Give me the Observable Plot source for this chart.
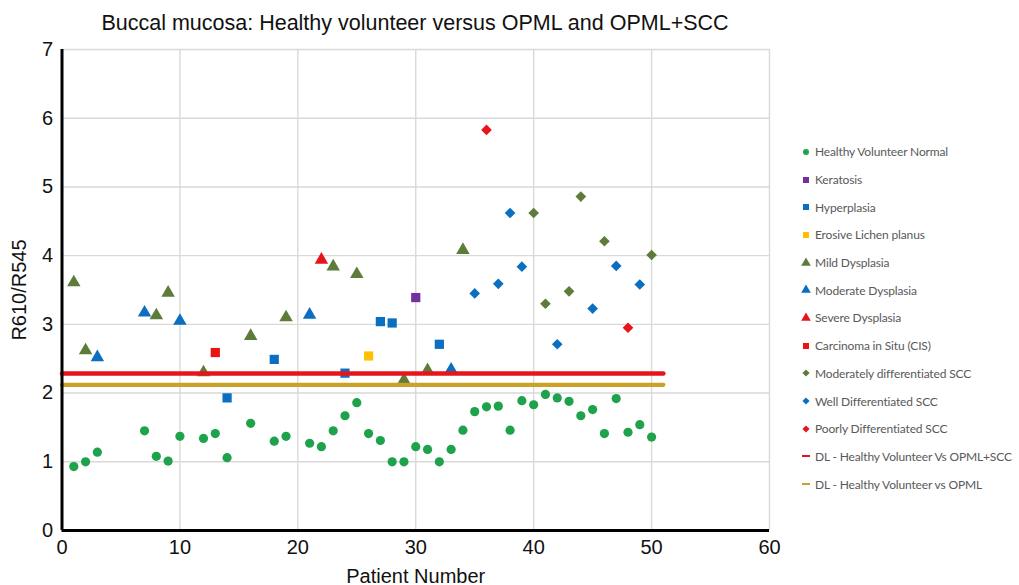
<!DOCTYPE html>
<html>
<head>
<meta charset="utf-8">
<script src="https://cdn.jsdelivr.net/npm/d3@7"></script>
<script src="https://cdn.jsdelivr.net/npm/@observablehq/plot@0.6"></script>
<style>
  html, body { margin: 0; padding: 0; background: #fff; }
  #wrap { position: relative; width: 1019px; height: 585px; overflow: hidden; }
  #title { height: 30px; width: 830px; text-align: center; font-family: "Liberation Sans", Arial, sans-serif; font-size: 21.5px; line-height: 24px; padding-top: 11px; box-sizing: border-box; color: #111; white-space: nowrap; }
  #chart svg { display: block; }
  #legend { position: absolute; left: 800px; top: 138px; font-family: Lato, "Open Sans", sans-serif; font-size: 12px; letter-spacing: -0.15px; color: #595959; }
  #legend .row { height: 27.7px; display: flex; align-items: center; white-space: nowrap; }
  #legend svg { margin-right: 3px; }
</style>
</head>
<body>
<div id="wrap">
  <div id="title">Buccal mucosa: Healthy volunteer versus OPML and OPML+SCC</div>
  <div id="chart"></div>
  <div id="legend"></div>
</div>
<script>
// ---- data ----
const healthyPatient = [1,2,3,7,8,9,10,12,13,14,16,18,19,21,22,23,24,25,26,27,28,29,30,31,32,33,34,35,36,37,38,39,40,41,42,43,44,45,46,47,48,49,50];
const healthyRatio   = [0.93,1.00,1.14,1.45,1.08,1.01,1.37,1.34,1.41,1.06,1.56,1.30,1.37,1.27,1.22,1.45,1.67,1.86,1.41,1.31,1.00,1.00,1.22,1.18,1.00,1.18,1.46,1.73,1.80,1.81,1.46,1.89,1.83,1.98,1.93,1.88,1.67,1.76,1.41,1.92,1.43,1.54,1.36];

const keratosisPatient = [30];
const keratosisRatio   = [3.39];

const hyperplasiaPatient = [14,18,24,27,28,32];
const hyperplasiaRatio   = [1.93,2.49,2.29,3.04,3.02,2.71];

const lichenPatient = [26];
const lichenRatio   = [2.54];

const mildPatient = [1,2,8,9,12,16,19,23,25,29,31,34];
const mildRatio   = [3.61,2.62,3.13,3.46,2.30,2.83,3.10,3.84,3.73,2.19,2.33,4.08];

const moderatePatient = [3,7,10,21,33];
const moderateRatio   = [2.52,3.17,3.05,3.14,2.34];

const severePatient = [22];
const severeRatio   = [3.94];

const cisPatient = [13];
const cisRatio   = [2.59];

const modSccPatient = [40,41,43,44,46,50];
const modSccRatio   = [4.62,3.30,3.48,4.86,4.21,4.01];

const wellSccPatient = [35,37,38,39,42,45,47,49];
const wellSccRatio   = [3.45,3.59,4.62,3.84,2.71,3.23,3.85,3.58];

const poorSccPatient = [36,48];
const poorSccRatio   = [5.83,2.95];

const dlSpan = [0, 51];
const dlOpmlScc = 2.285;
const dlOpml = 2.12;

const xTicks = [0,10,20,30,40,50,60];
const yTicks = [0,1,2,3,4,5,6,7];

// ---- series definitions ----
const series = [
  {name: "Healthy Volunteer Normal", px: healthyPatient, py: healthyRatio, symbol: "circle", color: "#1ea24c", r: 4.6, lr: 3},
  {name: "Keratosis", px: keratosisPatient, py: keratosisRatio, symbol: "square", color: "#7030a0", r: 5.2, lr: 3.4},
  {name: "Hyperplasia", px: hyperplasiaPatient, py: hyperplasiaRatio, symbol: "square", color: "#0a6fc0", r: 5.2, lr: 3.4},
  {name: "Erosive Lichen planus", px: lichenPatient, py: lichenRatio, symbol: "square", color: "#ffc000", r: 5.2, lr: 3.4},
  {name: "Mild Dysplasia", px: mildPatient, py: mildRatio, symbol: "triangle", color: "#5d7c3a", r: 5.0, lr: 3.6},
  {name: "Moderate Dysplasia", px: moderatePatient, py: moderateRatio, symbol: "triangle", color: "#0a6fc0", r: 5.0, lr: 3.6},
  {name: "Severe Dysplasia", px: severePatient, py: severeRatio, symbol: "triangle", color: "#e8141c", r: 5.0, lr: 3.6},
  {name: "Carcinoma in Situ (CIS)", px: cisPatient, py: cisRatio, symbol: "square", color: "#ee1111", r: 5.2, lr: 3.4},
  {name: "Moderately differentiated SCC", px: modSccPatient, py: modSccRatio, symbol: "diamond2", color: "#5d7c3a", r: 4.8, lr: 3.2},
  {name: "Well Differentiated SCC", px: wellSccPatient, py: wellSccRatio, symbol: "diamond2", color: "#0a6fc0", r: 4.8, lr: 3.2},
  {name: "Poorly Differentiated SCC", px: poorSccPatient, py: poorSccRatio, symbol: "diamond2", color: "#e8141c", r: 4.8, lr: 3.2}
];
const dlLines = [
  {name: "DL - Healthy Volunteer Vs OPML+SCC", value: dlOpmlScc, color: "#e8141c", w: 4.5},
  {name: "DL - Healthy Volunteer vs OPML", value: dlOpml, color: "#c9a227", w: 4.2}
];

const dotMarks = series.map(s => Plot.dot(s.px.map((p, i) => ({patient: p, ratio: s.py[i]})), {
  x: "patient", y: "ratio", symbol: () => s.symbol, fill: s.color, stroke: "none", r: s.r
}));
const lineMarks = dlLines.map(l => Plot.line(dlSpan.map(p => ({patient: p, ratio: l.value})), {
  x: "patient", y: "ratio", stroke: l.color, strokeWidth: l.w
}));

const chart = Plot.plot({
  width: 1019,
  height: 555,
  marginLeft: 61.5,
  marginRight: 250,
  marginTop: 19,
  marginBottom: 55,
  style: {fontFamily: "'Liberation Sans', Arial, sans-serif", fontSize: "20px", color: "#111", background: "transparent", overflow: "visible"},
  x: {domain: [0, 60]},
  y: {domain: [0, 7]},
  symbol: {type: "identity"},
  marks: [
    Plot.gridX(xTicks.slice(1), {stroke: "#d9d9d9", strokeOpacity: 1, strokeWidth: 1.4}),
    Plot.gridY(yTicks.slice(1), {stroke: "#d9d9d9", strokeOpacity: 1, strokeWidth: 1.4}),
    Plot.axisX(xTicks, {tickSize: 0, tickPadding: 9, tickFormat: d3.format("d"), label: "Patient Number", labelAnchor: "center", labelArrow: "none", labelOffset: 52, fontSize: 20}),
    Plot.axisY(yTicks, {tickSize: 0, tickPadding: 9, tickFormat: d3.format("d"), label: "R610/R545", labelAnchor: "center", labelArrow: "none", labelOffset: 50, fontSize: 20}),
    ...dotMarks,
    ...lineMarks,
    Plot.ruleX([0], {stroke: "#000", strokeWidth: 3}),
    Plot.ruleY([0], {stroke: "#000", strokeWidth: 3})
  ]
});
document.getElementById("chart").appendChild(chart);

// ---- legend ----
const legend = d3.select("#legend");
series.forEach(s => {
  const row = legend.append("div").attr("class", "row");
  const svg = row.append("svg").attr("width", 12).attr("height", 12);
  const sym = {circle: d3.symbolCircle, square: d3.symbolSquare, triangle: d3.symbolTriangle, diamond2: d3.symbolDiamond2}[s.symbol];
  svg.append("path").attr("transform", "translate(6,6)")
    .attr("d", d3.symbol(sym, Math.PI * s.lr * s.lr)()).attr("fill", s.color);
  row.append("span").text((s.symbol === "circle" ? " " : "") + s.name);
});
dlLines.forEach(l => {
  const row = legend.append("div").attr("class", "row");
  const svg = row.append("svg").attr("width", 12).attr("height", 12);
  svg.append("line").attr("x1", 2).attr("x2", 10).attr("y1", 6).attr("y2", 6)
    .attr("stroke", l.color).attr("stroke-width", 2);
  row.append("span").text(l.name);
});
</script>
</body>
</html>
